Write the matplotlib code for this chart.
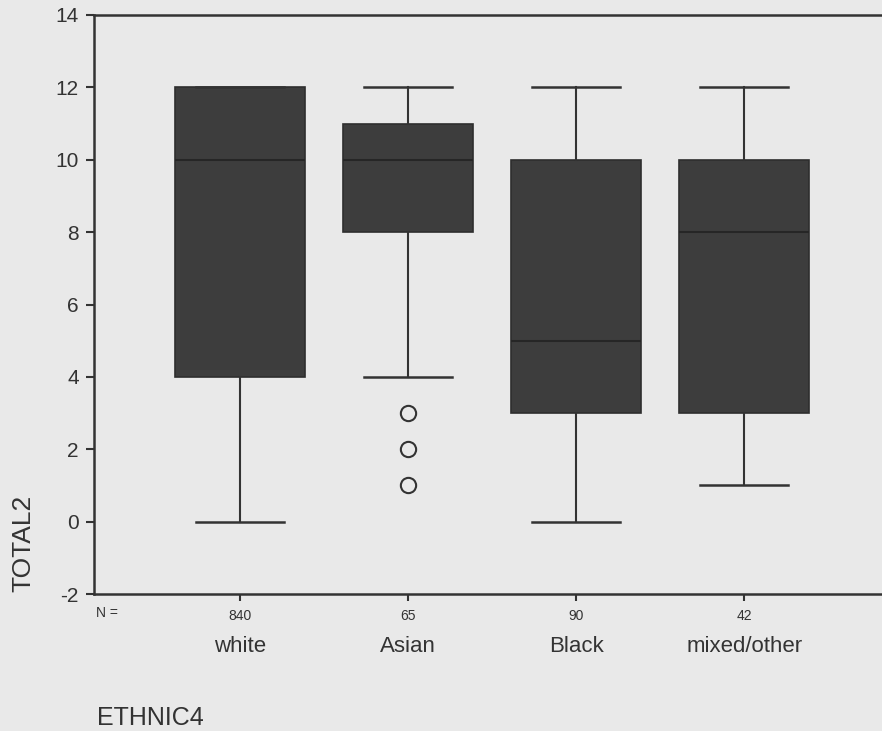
import matplotlib
matplotlib.use("Agg")
import matplotlib.pyplot as plt

# score summaries per ethnic group (whisker low, Q1, median, Q3, whisker high)
groups = ["white", "Asian", "Black", "mixed/other"]
counts = [840, 65, 90, 42]
whisker_low = [0, 4, 0, 1]
q1 = [4, 8, 3, 3]
medians = [10, 10, 5, 8]
q3 = [12, 11, 10, 10]
whisker_high = [12, 12, 12, 12]
outliers = [[], [3, 2, 1], [], []]

plt.rcParams['font.family'] = ['Liberation Sans', 'DejaVu Sans']
plt.rcParams['axes.unicode_minus'] = False
ink = '#333333'
bg = '#e9e9e9'

stats = []
for i, g in enumerate(groups):
    stats.append({
        'label': g, 'whislo': whisker_low[i], 'q1': q1[i], 'med': medians[i],
        'q3': q3[i], 'whishi': whisker_high[i], 'fliers': outliers[i],
    })

fig = plt.figure(figsize=(8.82, 7.31), dpi=100, facecolor=bg)
ax = fig.add_axes([94 / 882, 137 / 731, 1 - 94 / 882, 579 / 731])
ax.set_facecolor(bg)

ax.bxp(stats, positions=[1, 2, 3, 4], widths=0.775, capwidths=0.525,
       patch_artist=True, showfliers=True,
       boxprops=dict(facecolor='#3d3d3d', edgecolor='#2e2e2e', linewidth=1.2),
       medianprops=dict(color='#262626', linewidth=1.5),
       whiskerprops=dict(color=ink, linewidth=1.5),
       capprops=dict(color=ink, linewidth=1.8),
       flierprops=dict(marker='o', markersize=11, markerfacecolor='none',
                       markeredgecolor=ink, markeredgewidth=1.5))

ax.set_xlim(0.13, 4.82)
ax.set_ylim(-2, 14)
ax.set_yticks(range(-2, 15, 2))
ax.set_xticks([1, 2, 3, 4])
ax.set_xticklabels([str(c) for c in counts], fontsize=10, color=ink)

for side in ['left', 'bottom', 'top']:
    ax.spines[side].set_color(ink)
    ax.spines[side].set_linewidth(1.8)
ax.spines['right'].set_visible(False)

ax.tick_params(axis='y', labelsize=15, colors=ink, length=6, width=1.5, pad=5)
ax.tick_params(axis='x', colors=ink, length=5, width=1.5, pad=6)

# group names beneath the counts
for x, g in zip([1, 2, 3, 4], groups):
    ax.text(x, -0.0915, g, transform=ax.get_xaxis_transform(),
            ha='center', va='center', fontsize=16, color=ink)

fig.text(96 / 882, (731 - 613) / 731, "N =", fontsize=10, color=ink,
         ha='left', va='center')
fig.text(23 / 882, (731 - 543) / 731, "TOTAL2", rotation=90, fontsize=19,
         color=ink, ha='center', va='center')
fig.text(97 / 882, (731 - 718) / 731, "ETHNIC4", fontsize=18, color=ink,
         ha='left', va='center')

fig.savefig("out.png", dpi=100, facecolor=bg)
